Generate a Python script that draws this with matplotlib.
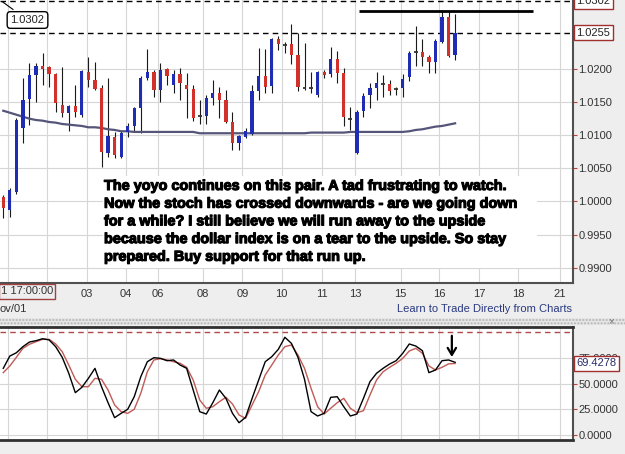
import numpy as np
import matplotlib.pyplot as plt
import matplotlib.patheffects as pe
from matplotlib.patches import Rectangle
from matplotlib.transforms import blended_transform_factory

plt.rcParams['font.family'] = ['Liberation Sans', 'DejaVu Sans']

# candles (EUR-ish pair, one bar per session)
opens = [1.0007, 0.9987, 1.0014, 1.0111, 1.0155, 1.0191, 1.0205, 1.0203, 1.0192, 1.0146,
         1.0134, 1.0144, 1.0131, 1.0195, 1.0183, 1.0171, 1.0073, 1.0097, 1.0067, 1.0105,
         1.0114, 1.0141, 1.0186, 1.0195, 1.0168, 1.0200, 1.0176, 1.0192, 1.0176, 1.0170,
         1.0128, 1.0129, 1.0156, 1.0164, 1.0153, 1.0120, 1.0088, 1.0097, 1.0102, 1.0167,
         1.0189, 1.0174, 1.0245, 1.0238, 1.0238, 1.0221, 1.0173, 1.0170, 1.0161, 1.0195,
         1.0192, 1.0215, 1.0194, 1.0126, 1.0073, 1.0137, 1.0161, 1.0171, 1.0179, 1.0177,
         1.0171, 1.0171, 1.0188, 1.0224, 1.0226, 1.0218, 1.0211, 1.0241, 1.0279, 1.0221]
highs = [1.0010, 1.0020, 1.0126, 1.0186, 1.0209, 1.0209, 1.0224, 1.0205, 1.0194, 1.0203,
         1.0146, 1.0176, 1.0198, 1.0218, 1.0211, 1.0176, 1.0186, 1.0105, 1.0106, 1.0119,
         1.0143, 1.0189, 1.0230, 1.0198, 1.0209, 1.0202, 1.0198, 1.0202, 1.0194, 1.0176,
         1.0153, 1.0161, 1.0183, 1.0173, 1.0168, 1.0135, 1.0100, 1.0111, 1.0176, 1.0232,
         1.0230, 1.0247, 1.0250, 1.0241, 1.0268, 1.0254, 1.0239, 1.0195, 1.0197, 1.0198,
         1.0233, 1.0227, 1.0202, 1.0143, 1.0138, 1.0164, 1.0179, 1.0195, 1.0191, 1.0183,
         1.0173, 1.0192, 1.0227, 1.0265, 1.0245, 1.0221, 1.0245, 1.0289, 1.0286, 1.0283]
lows = [0.9975, 0.9977, 1.0011, 1.0088, 1.0116, 1.0150, 1.0176, 1.0173, 1.0135, 1.0128,
        1.0106, 1.0128, 1.0128, 1.0173, 1.0168, 1.0052, 1.0067, 1.0066, 1.0066, 1.0097,
        1.0105, 1.0103, 1.0183, 1.0158, 1.0150, 1.0176, 1.0164, 1.0153, 1.0126, 1.0122,
        1.0117, 1.0117, 1.0146, 1.0126, 1.0119, 1.0078, 1.0078, 1.0096, 1.0100, 1.0153,
        1.0164, 1.0164, 1.0229, 1.0224, 1.0208, 1.0167, 1.0168, 1.0164, 1.0158, 1.0186,
        1.0188, 1.0179, 1.0114, 1.0108, 1.0072, 1.0128, 1.0141, 1.0153, 1.0158, 1.0161,
        1.0161, 1.0158, 1.0182, 1.0205, 1.0205, 1.0194, 1.0194, 1.0239, 1.0218, 1.0214]
closes = [0.9990, 1.0017, 1.0123, 1.0153, 1.0191, 1.0205, 1.0200, 1.0192, 1.0149, 1.0134,
          1.0144, 1.0135, 1.0197, 1.0183, 1.0170, 1.0075, 1.0099, 1.0070, 1.0103, 1.0114,
          1.0141, 1.0186, 1.0195, 1.0168, 1.0198, 1.0189, 1.0192, 1.0179, 1.0170, 1.0126,
          1.0129, 1.0156, 1.0164, 1.0153, 1.0120, 1.0088, 1.0099, 1.0106, 1.0167, 1.0189,
          1.0173, 1.0245, 1.0238, 1.0237, 1.0221, 1.0173, 1.0172, 1.0171, 1.0195, 1.0191,
          1.0215, 1.0194, 1.0128, 1.0125, 1.0135, 1.0159, 1.0171, 1.0179, 1.0178, 1.0167,
          1.0170, 1.0185, 1.0224, 1.0225, 1.0218, 1.0211, 1.0242, 1.0279, 1.0220, 1.0255]

ma_values = [1.0137, 1.0134, 1.0131, 1.0128, 1.0125, 1.0123, 1.0122, 1.0120, 1.0119, 1.0117,
             1.0116, 1.0115, 1.0114, 1.0112, 1.0112, 1.0111, 1.0109, 1.0108, 1.0106, 1.0106,
             1.0105, 1.0105, 1.0105, 1.0105, 1.0105, 1.0105, 1.0105, 1.0105, 1.0105, 1.0105,
             1.0103, 1.0103, 1.0103, 1.0103, 1.0103, 1.0103, 1.0103, 1.0103, 1.0103, 1.0103,
             1.0103, 1.0103, 1.0103, 1.0103, 1.0103, 1.0103, 1.0103, 1.0104, 1.0104, 1.0104,
             1.0104, 1.0104, 1.0104, 1.0105, 1.0105, 1.0105, 1.0105, 1.0105, 1.0105, 1.0105,
             1.0105, 1.0105, 1.0106, 1.0108, 1.0109, 1.0111, 1.0113, 1.0114, 1.0116, 1.0118]

stoch_k = [64.7, 76.6, 79.8, 85.7, 90.2, 91.5, 93.4, 92.2, 85.7, 75.4,
           59.9, 41.1, 46.3, 55.0, 64.7, 46.9, 31.4, 16.9, 21.1, 25.0,
           37.2, 56.6, 71.1, 75.0, 74.4, 72.1, 72.8, 67.9, 64.7, 43.7,
           22.7, 20.4, 31.4, 43.7, 35.6, 21.1, 12.0, 17.2, 35.6, 53.4,
           71.1, 76.0, 83.1, 94.8, 88.9, 75.4, 54.1, 22.7, 18.5, 21.1,
           36.6, 37.2, 27.5, 18.5, 20.4, 35.6, 51.8, 59.9, 64.7, 68.9,
           72.1, 79.3, 88.3, 86.3, 81.8, 60.5, 63.1, 72.1, 72.8, 70.5]
stoch_d = [60.5, 67.0, 75.4, 84.1, 88.0, 90.5, 92.8, 92.8, 88.3, 80.8,
           67.9, 54.1, 46.9, 46.9, 55.0, 54.1, 43.7, 29.2, 22.7, 21.1,
           25.0, 40.5, 61.4, 72.8, 74.0, 72.8, 71.1, 69.6, 65.7, 53.4,
           34.0, 26.0, 27.5, 32.4, 36.6, 30.1, 19.5, 16.3, 29.2, 42.1,
           58.2, 67.9, 77.6, 85.7, 87.3, 77.6, 64.7, 45.3, 27.5, 20.4,
           26.0, 31.4, 35.6, 26.0, 21.7, 23.6, 38.9, 53.4, 61.4, 65.7,
           69.6, 74.4, 81.5, 84.1, 79.3, 67.0, 63.1, 65.7, 69.0, 69.4]

day_ticks = [0.7, 6.7, 12.8, 18.7, 23.6, 30.5, 36.5, 42.5, 48.6, 53.7, 60.7, 66.6, 72.7, 78.6, 85.0]
day_labels = ['', '', '03', '04', '06', '08', '09', '10', '11', '13', '15', '16', '17', '18', '21']
price_ticks = [1.0200, 1.0150, 1.0100, 1.0050, 1.0000, 0.9950, 0.9900]
stoch_ticks = [0, 25, 50, 75]

last_high = 1.0302
last_price = 1.0255
resistance = 1.0287
res_from, res_to = 54.3, 80.9
stoch_last = 69.4278

note = ["The yoyo continues on this pair. A tad frustrating to watch.",
        "Now the stoch has crossed downwards - are we going down",
        "for a while? I still believe we will run away to the upside",
        "because the dollar index is on a tear to the upside. So stay",
        "prepared. Buy support for that run up."]

W, H = 625, 454
def px_box(x0, y0, x1, y1):
    return [x0 / W, 1 - y1 / H, (x1 - x0) / W, (y1 - y0) / H]

fig = plt.figure(figsize=(W / 100, H / 100), dpi=100, facecolor='#eeeeee')
ax = fig.add_axes(px_box(0, 0, 573, 283))
ax2 = fig.add_axes(px_box(0, 327, 573, 440))

x = np.arange(len(opens))
o, h, l, c = map(np.array, (opens, highs, lows, closes))

# --- price panel ---
ax.set_facecolor('white')
ax.set_xlim(-0.5, 87)
ax.set_ylim(0.98769, 1.03042)
ax.vlines(x, l, h, color='#1a1a1a', lw=0.8, zorder=2)
ax.plot(x, ma_values, color='#55557a', lw=1.6, zorder=2.5)
up = c > o + 0.0002
down = c < o - 0.0002
flat = ~(up | down)
ax.bar(x[up], (c - o)[up], bottom=o[up], width=0.5, color='#1f2db4', zorder=3)
ax.bar(x[down], (o - c)[down], bottom=c[down], width=0.5, color='#d2302a', zorder=3)
ax.hlines(c[flat], x[flat] - 0.3, x[flat] + 0.3, color='#333333', lw=1.3, zorder=3)

ax.axhline(last_high, color='black', lw=1, ls=(0, (4, 3)), zorder=2)
ax.axhline(last_price, color='black', lw=1, ls=(0, (4, 3)), zorder=2)
ax.hlines(resistance, res_from, res_to, color='black', lw=2, zorder=4)

ax.yaxis.tick_right()
ax.set_yticks(price_ticks)
ax.set_yticklabels([f'{v:.4f}' for v in price_ticks])
ax.tick_params(axis='y', length=3, color='#c04040', labelsize=8, labelcolor='#333333', pad=1)
ax.set_xticks(day_ticks)
ax.set_xticklabels(day_labels)
ax.tick_params(axis='x', length=0, labelsize=8, labelcolor='#333333', pad=4)
ax.grid(True, color='#d6d6d6', lw=0.8)
ax.set_axisbelow(True)
for s in ['left', 'top']:
    ax.spines[s].set_visible(False)
for s in ['right', 'bottom']:
    ax.spines[s].set_color('#505050')
    ax.spines[s].set_linewidth(1.5)

trans = blended_transform_factory(ax.transAxes, ax.transData)
for val in (last_high, last_price):
    ax.text(1.006, val, f'{val:.4f}', transform=trans, ha='left', va='center', fontsize=8,
            color='#222222', clip_on=False, zorder=6,
            bbox=dict(boxstyle='square,pad=0.25', fc='white', ec='#a03030', lw=1))

ax.annotate(f'{last_high:.4f}', xy=(0, 1), xycoords='axes fraction',
            xytext=(27.5 / 573, 1 - 20 / 283), textcoords='axes fraction',
            ha='center', va='center', fontsize=8, color='#222222', zorder=6,
            bbox=dict(boxstyle='round,pad=0.3', fc='white', ec='black', lw=1),
            arrowprops=dict(arrowstyle='-', color='black', lw=0.8))

ax.add_patch(Rectangle((103 / 573, 15 / 283), 434 / 573, 92 / 283, transform=ax.transAxes,
                       fc='white', ec='none', zorder=4))
for i, line in enumerate(note):
    ax.text(104 / 573, (283 - (186 + 17.7 * i)) / 283, line, transform=ax.transAxes,
            ha='left', va='center', fontsize=10.4, fontweight='heavy', color='black', zorder=5,
            path_effects=[pe.withStroke(linewidth=0.8, foreground='black')])

# --- stochastic panel ---
ax2.set_facecolor('white')
ax2.set_xlim(-0.5, 87)
ax2.set_ylim(-4.75, 104.75)
ax2.axhline(100, color='#b04a4a', lw=1, ls=(0, (4, 3)))
ax2.plot(x, stoch_d, color='#c05a55', lw=1, zorder=3)
ax2.plot(x, stoch_k, color='black', lw=1, zorder=3)
ax2.annotate('', xy=(68.5, 73), xytext=(68.5, 99),
             arrowprops=dict(arrowstyle='->,head_width=0.3,head_length=0.5', color='black', lw=1.6))
ax2.yaxis.tick_right()
ax2.set_yticks(stoch_ticks)
ax2.set_yticklabels([f'{v:.4f}' for v in stoch_ticks])
ax2.tick_params(axis='y', length=3, color='#c04040', labelsize=8, labelcolor='#333333', pad=1)
ax2.set_xticks(day_ticks)
ax2.set_xticklabels([])
ax2.tick_params(axis='x', length=0)
ax2.grid(True, color='#d6d6d6', lw=0.8)
ax2.set_axisbelow(True)
ax2.spines['left'].set_visible(False)
for s in ['top', 'bottom']:
    ax2.spines[s].set_color('#303030')
    ax2.spines[s].set_linewidth(2)
ax2.spines['right'].set_color('#505050')
ax2.spines['right'].set_linewidth(1.5)
trans2 = blended_transform_factory(ax2.transAxes, ax2.transData)
ax2.text(1.006, stoch_last, f'{stoch_last:.4f}', transform=trans2, ha='left', va='center',
         fontsize=8, color='#2a2a6a', clip_on=False, zorder=6,
         bbox=dict(boxstyle='square,pad=0.25', fc='white', ec='#a03030', lw=1))

# --- frame bits ---
fig.text(1 / W, 1 - 291.5 / H, '1 17:00:00', ha='left', va='center', fontsize=8, color='#333333',
         bbox=dict(boxstyle='square,pad=0.2', fc='#eeeeee', ec='#a04040', lw=1))
fig.text(0, 1 - 309 / H, 'ov/01', ha='left', va='center', fontsize=8, color='#333333')
fig.text(572 / W, 1 - 309 / H, 'Learn to Trade Directly from Charts', ha='right', va='center',
         fontsize=8, color='#2b3a80')
fig.patches.append(Rectangle((0, 1 - 325 / H), 1, 7 / H, transform=fig.transFigure,
                             fc='#e6e6e6', ec='#b4b4b4', lw=0, hatch='.....'))
fig.text(611 / W, 1 - 321 / H, '×', ha='center', va='center', fontsize=7, color='#777777')

fig.savefig('out.png', dpi=100, facecolor=fig.get_facecolor())
